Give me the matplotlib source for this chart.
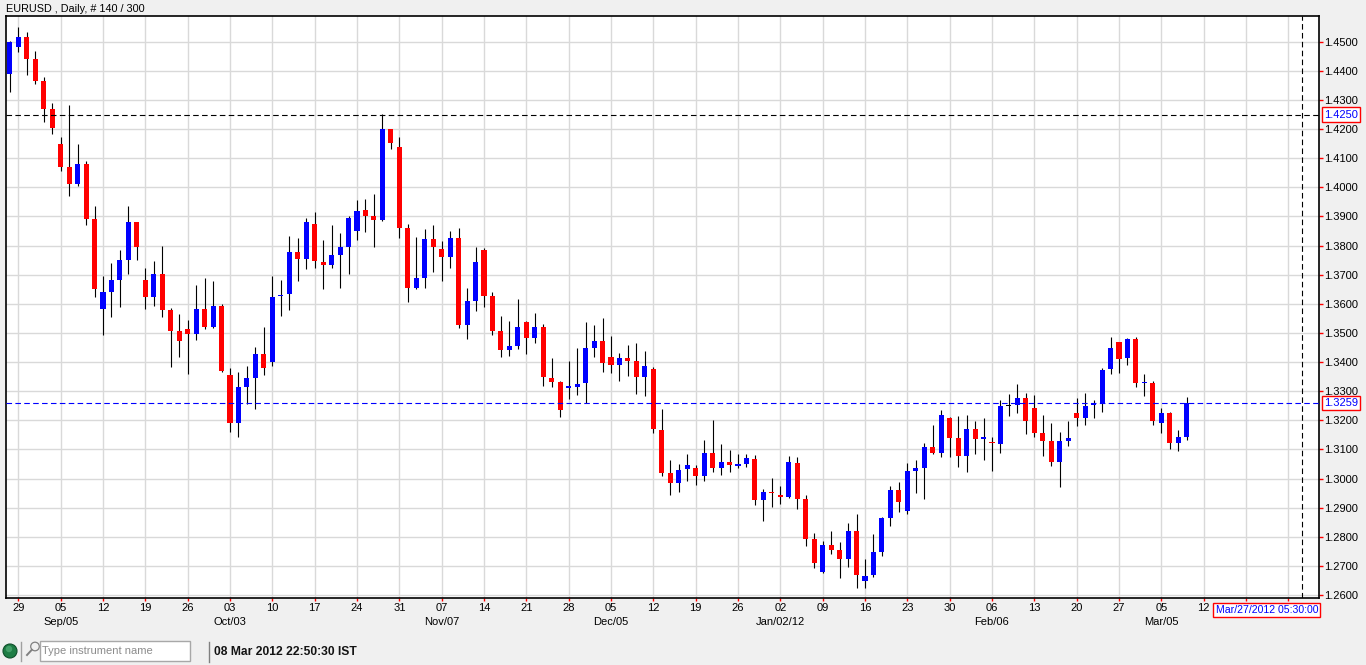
import matplotlib
matplotlib.use("Agg")
import matplotlib.pyplot as plt
import matplotlib.patches as mpatches
import matplotlib.transforms as mtrans
from matplotlib.ticker import FormatStrFormatter
import numpy as np
import pandas as pd

plt.rcParams["font.family"] = ["Liberation Sans", "DejaVu Sans"]

# EURUSD daily, 26 Aug 2011 .. 08 Mar 2012 (140 bars)
dates = pd.bdate_range("2011-08-26", "2012-03-08")

opens = [
    1.4390, 1.4483, 1.4516, 1.4440, 1.4365, 1.4269, 1.4148, 1.4069, 1.4012, 1.4080,
    1.3891, 1.3582, 1.3640, 1.3681, 1.3750, 1.3880, 1.3681, 1.3624, 1.3702, 1.3577,
    1.3505, 1.3515, 1.3495, 1.3583, 1.3522, 1.3594, 1.3357, 1.3190, 1.3316, 1.3345,
    1.3426, 1.3399, 1.3626, 1.3633, 1.3777, 1.3754, 1.3874, 1.3745, 1.3733, 1.3767,
    1.3794, 1.3849, 1.3922, 1.3901, 1.3888, 1.4200, 1.4138, 1.3860, 1.3654, 1.3688,
    1.3821, 1.3787, 1.3760, 1.3825, 1.3527, 1.3609, 1.3784, 1.3626, 1.3507, 1.3442,
    1.3455, 1.3537, 1.3483, 1.3520, 1.3346, 1.3332, 1.3313, 1.3316, 1.3327, 1.3448,
    1.3471, 1.3419, 1.3390, 1.3413, 1.3402, 1.3348, 1.3375, 1.3168, 1.3019, 1.2986,
    1.3031, 1.3037, 1.3010, 1.3088, 1.3037, 1.3057, 1.3044, 1.3050, 1.3067, 1.2927,
    1.2954, 1.2944, 1.2937, 1.3053, 1.2930, 1.2792, 1.2680, 1.2772, 1.2755, 1.2725,
    1.2820, 1.2649, 1.2670, 1.2748, 1.2865, 1.2960, 1.2889, 1.3027, 1.3037, 1.3108,
    1.3089, 1.3208, 1.3139, 1.3078, 1.3170, 1.3137, 1.3127, 1.3120, 1.3250, 1.3251,
    1.3277, 1.3243, 1.3157, 1.3129, 1.3058, 1.3130, 1.3225, 1.3209, 1.3251, 1.3259,
    1.3375, 1.3470, 1.3413, 1.3480, 1.3329, 1.3329, 1.3189, 1.3225, 1.3123, 1.3144,
]
highs = [
    1.4502, 1.4550, 1.4533, 1.4469, 1.4379, 1.4289, 1.4172, 1.4281, 1.4148, 1.4090,
    1.3935, 1.3695, 1.3739, 1.3784, 1.3935, 1.3882, 1.3723, 1.3746, 1.3798, 1.3586,
    1.3566, 1.3546, 1.3666, 1.3690, 1.3679, 1.3601, 1.3380, 1.3367, 1.3385, 1.3450,
    1.3522, 1.3697, 1.3683, 1.3832, 1.3825, 1.3895, 1.3915, 1.3818, 1.3870, 1.3843,
    1.3900, 1.3956, 1.3960, 1.3977, 1.4252, 1.4200, 1.4174, 1.3875, 1.3829, 1.3856,
    1.3870, 1.3814, 1.3849, 1.3859, 1.3654, 1.3794, 1.3791, 1.3640, 1.3558, 1.3541,
    1.3616, 1.3541, 1.3568, 1.3531, 1.3414, 1.3336, 1.3402, 1.3447, 1.3537, 1.3526,
    1.3551, 1.3488, 1.3430, 1.3457, 1.3464, 1.3437, 1.3382, 1.3240, 1.3063, 1.3050,
    1.3085, 1.3047, 1.3133, 1.3200, 1.3119, 1.3098, 1.3084, 1.3084, 1.3081, 1.2964,
    1.3001, 1.2973, 1.3077, 1.3074, 1.2944, 1.2813, 1.2786, 1.2820, 1.2783, 1.2847,
    1.2878, 1.2725, 1.2810, 1.2868, 1.2974, 1.2987, 1.3053, 1.3063, 1.3122, 1.3184,
    1.3236, 1.3212, 1.3215, 1.3218, 1.3198, 1.3208, 1.3143, 1.3270, 1.3291, 1.3325,
    1.3294, 1.3286, 1.3218, 1.3191, 1.3160, 1.3198, 1.3277, 1.3294, 1.3270, 1.3379,
    1.3487, 1.3470, 1.3484, 1.3487, 1.3360, 1.3336, 1.3243, 1.3229, 1.3167, 1.3281,
]
lows = [
    1.4328, 1.4464, 1.4385, 1.4355, 1.4225, 1.4184, 1.4056, 1.3971, 1.4005, 1.3871,
    1.3624, 1.3492, 1.3555, 1.3589, 1.3702, 1.3750, 1.3581, 1.3593, 1.3555, 1.3382,
    1.3417, 1.3358, 1.3475, 1.3515, 1.3517, 1.3365, 1.3159, 1.3142, 1.3256, 1.3238,
    1.3357, 1.3388, 1.3559, 1.3577, 1.3680, 1.3718, 1.3723, 1.3651, 1.3723, 1.3655,
    1.3702, 1.3818, 1.3846, 1.3795, 1.3884, 1.4132, 1.3826, 1.3606, 1.3651, 1.3654,
    1.3708, 1.3678, 1.3722, 1.3517, 1.3479, 1.3575, 1.3589, 1.3493, 1.3418, 1.3421,
    1.3445, 1.3428, 1.3466, 1.3318, 1.3315, 1.3212, 1.3272, 1.3286, 1.3260, 1.3417,
    1.3365, 1.3362, 1.3334, 1.3352, 1.3290, 1.3283, 1.3158, 1.3007, 1.2945, 1.2954,
    1.2993, 1.2979, 1.2993, 1.3024, 1.3013, 1.3024, 1.3037, 1.3041, 1.2909, 1.2855,
    1.2903, 1.2914, 1.2933, 1.2897, 1.2770, 1.2694, 1.2677, 1.2742, 1.2660, 1.2697,
    1.2624, 1.2625, 1.2663, 1.2733, 1.2837, 1.2885, 1.2878, 1.2951, 1.2930, 1.3085,
    1.3075, 1.3075, 1.3040, 1.3023, 1.3085, 1.3064, 1.3027, 1.3089, 1.3213, 1.3225,
    1.3154, 1.3144, 1.3078, 1.3044, 1.2971, 1.3112, 1.3182, 1.3185, 1.3209, 1.3230,
    1.3358, 1.3364, 1.3389, 1.3316, 1.3282, 1.3185, 1.3158, 1.3102, 1.3096, 1.3133,
]
closes = [
    1.4499, 1.4516, 1.4440, 1.4365, 1.4269, 1.4204, 1.4070, 1.4012, 1.4080, 1.3891,
    1.3651, 1.3640, 1.3681, 1.3750, 1.3880, 1.3794, 1.3624, 1.3702, 1.3579, 1.3506,
    1.3471, 1.3495, 1.3583, 1.3522, 1.3594, 1.3369, 1.3190, 1.3316, 1.3345, 1.3426,
    1.3379, 1.3625, 1.3631, 1.3777, 1.3754, 1.3880, 1.3747, 1.3733, 1.3767, 1.3794,
    1.3895, 1.3918, 1.3901, 1.3888, 1.4200, 1.4152, 1.3861, 1.3654, 1.3687, 1.3822,
    1.3795, 1.3760, 1.3825, 1.3527, 1.3609, 1.3743, 1.3626, 1.3507, 1.3442, 1.3455,
    1.3520, 1.3483, 1.3520, 1.3347, 1.3333, 1.3236, 1.3316, 1.3326, 1.3447, 1.3471,
    1.3396, 1.3390, 1.3413, 1.3403, 1.3348, 1.3385, 1.3169, 1.3020, 1.2986, 1.3030,
    1.3047, 1.3010, 1.3088, 1.3037, 1.3057, 1.3048, 1.3050, 1.3071, 1.2927, 1.2954,
    1.2951, 1.2937, 1.3057, 1.2931, 1.2794, 1.2711, 1.2772, 1.2756, 1.2725, 1.2820,
    1.2670, 1.2665, 1.2748, 1.2865, 1.2960, 1.2920, 1.3025, 1.3036, 1.3108, 1.3089,
    1.3218, 1.3140, 1.3078, 1.3170, 1.3137, 1.3143, 1.3121, 1.3249, 1.3250, 1.3277,
    1.3199, 1.3158, 1.3130, 1.3058, 1.3129, 1.3139, 1.3209, 1.3250, 1.3259, 1.3374,
    1.3449, 1.3409, 1.3480, 1.3327, 1.3331, 1.3199, 1.3225, 1.3123, 1.3143, 1.3259,
]

# crosshair position shown in the screenshot
cursor_price = 1.4250
cursor_bar = 152.6
cursor_label = "Mar/27/2012 05:30:00"
clock_text = "08 Mar 2012 22:50:30 IST"
title = "EURUSD , Daily, # 140 / 300"

o = np.array(opens)
h = np.array(highs)
l = np.array(lows)
c = np.array(closes)
x = np.arange(len(c))

W, H = 1366, 665
fig = plt.figure(figsize=(W / 100, H / 100), dpi=100, facecolor="#F0F0F0")
L, R, T, B = 5.7, 1319.3, 16, 598.3
ax = fig.add_axes([L / W, 1 - B / H, (R - L) / W, (B - T) / H])

# candles
ax.vlines(x, l, h, color="black", lw=0.8, zorder=3)
colors = np.where(c > o, "#0000FF", np.where(c < o, "#FF0000", "#000000"))
body = np.abs(c - o)
min_body = 0.0004
bottom = np.minimum(o, c) - np.clip(min_body - body, 0, None) / 2
ax.bar(x, np.maximum(body, min_body), bottom=bottom, width=0.6,
       color=colors, lw=0, zorder=4)

ax.set_xlim(-0.49, 154.66)
ax.set_ylim(1.25887, 1.45883)

# y axis on the right
ax.yaxis.tick_right()
ax.set_yticks(np.round(np.arange(1.26, 1.4501, 0.01), 2))
ax.yaxis.set_major_formatter(FormatStrFormatter("%.4f"))
ax.tick_params(axis="y", color="red", labelcolor="black", length=3, width=1,
               pad=0.5, labelsize=8)

# weekly ticks on mondays, month name under first monday of the month;
# the ticks past Mar 12 sit under the cursor time tag, so no label there
days = pd.bdate_range("2011-08-26", "2012-03-30")
tick_pos, tick_lab = [], []
last_month = None
for i, d in enumerate(days):
    if d.dayofweek != 0:
        continue
    lab = d.strftime("%d") if i <= 141 else ""
    if d.month != last_month and i > 1:
        sub = d.strftime("%b/%d/%y") if d.month == 1 else d.strftime("%b/%d")
        lab = lab + "\n" + sub
    last_month = d.month
    tick_pos.append(i)
    tick_lab.append(lab)
ax.set_xticks(tick_pos)
ax.set_xticklabels(tick_lab, linespacing=1.45)
for t in ax.get_xticklabels():
    t.set_verticalalignment("top")
ax.tick_params(axis="x", color="red", labelcolor="black", length=2, width=1,
               pad=1.5, labelsize=8)

ax.grid(True, color="#D9D9D9", lw=1)
ax.set_axisbelow(True)
for s in ax.spines.values():
    s.set_linewidth(1.2)
    s.set_color("black")

# crosshair and last price
dash = (0, (5, 3))
ax.axhline(cursor_price, color="black", lw=0.8, ls=dash, zorder=5)
ax.axvline(cursor_bar, color="black", lw=0.8, ls=dash, zorder=5)
ax.axhline(c[-1], color="#0000FF", lw=0.8, ls=dash, zorder=5)

tr = mtrans.blended_transform_factory(ax.transAxes, ax.transData)
for val in (cursor_price, c[-1]):
    ax.text(1 + 4.7 / (R - L), val, "%.4f" % val, transform=tr, ha="left",
            va="center", fontsize=8, color="#0000FF", clip_on=False, zorder=10,
            bbox=dict(boxstyle="square,pad=0.2", fc="white", ec="red", lw=1))

# overlay in pixel coordinates for the window chrome
bg = fig.add_axes([0, 0, 1, 1], zorder=5)
bg.set_xlim(0, W)
bg.set_ylim(H, 0)
bg.axis("off")

bg.text(6, 9, title, fontsize=7.8, va="center", ha="left")

bg.text(1318, 610, cursor_label, fontsize=7.6, color="#0000FF", ha="right",
        va="center",
        bbox=dict(boxstyle="square,pad=0.2", fc="white", ec="red", lw=1))

# status bar
bg.add_patch(mpatches.Circle((10, 651), 7, fc="#1E7D45", ec="#0E4F2A", lw=0.8))
bg.add_patch(mpatches.Circle((9, 649), 3.2, fc="#4DA872", ec="none", alpha=0.8))
bg.plot([21, 21], [642, 661], color="#A0A0A0", lw=1)
bg.add_patch(mpatches.Circle((35, 646.5), 4.3, fill=False, ec="#808080", lw=0.9))
bg.plot([31.8, 27], [649.8, 655], color="#808080", lw=1.4)
bg.add_patch(mpatches.Rectangle((40, 640.5), 149.5, 20.5, fc="white",
                                ec="#A8A8A8", lw=1))
bg.text(41.5, 651, "Type instrument name", fontsize=8, color="#8C8C8C",
        va="center", ha="left")
bg.plot([208.7, 208.7], [642, 662], color="#808080", lw=1)
bg.text(214, 652, clock_text, fontsize=8.7, fontweight="bold", color="#141414",
        va="center", ha="left")

fig.savefig("out.png", dpi=100, facecolor=fig.get_facecolor())
